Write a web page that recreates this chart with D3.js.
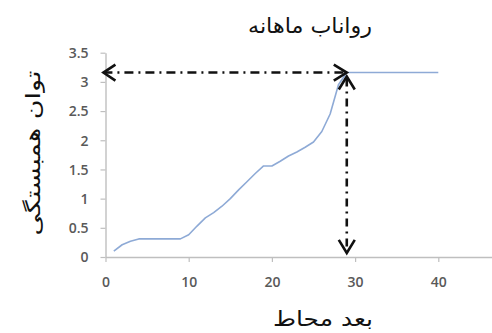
<!DOCTYPE html>
<html>
<head>
<meta charset="utf-8">
<script src="https://cdn.jsdelivr.net/npm/d3@7"></script>
<style>
  html, body { margin: 0; padding: 0; background: #fff; }
  svg { display: block; }
</style>
</head>
<body>
<svg id="chart" width="492" height="333"></svg>
<script>
// Lag distance (x) and correlation power (y) for monthly runoff
const lags = [1, 2, 3, 4, 5, 6, 7, 8, 9, 10, 11, 12, 13, 14, 15, 16, 17, 18, 19, 20,
              21, 22, 23, 24, 25, 26, 27, 28, 29, 30, 31, 32, 33, 34, 35, 36, 37, 38, 39, 40];
const power = [0.10, 0.21, 0.27, 0.31, 0.31, 0.31, 0.31, 0.31, 0.31, 0.38,
               0.53, 0.67, 0.76, 0.87, 1.00, 1.15, 1.29, 1.43, 1.56, 1.56,
               1.64, 1.73, 1.80, 1.88, 1.97, 2.15, 2.45, 2.95, 3.16, 3.16,
               3.16, 3.16, 3.16, 3.16, 3.16, 3.16, 3.16, 3.16, 3.16, 3.16];
const xTicks = [0, 10, 20, 30, 40];
const yTicks = [0, 0.5, 1, 1.5, 2, 2.5, 3, 3.5];
// Sill read-off: horizontal arrow to the plateau, vertical arrow down to the range
const sillLag = 29;
const sillValue = 3.16;
const arrowBottom = 0.07;
const arrowLeft = -0.25;

const title = "رواناب ماهانه";
const xTitle = "بعد محاط";
const yTitle = "توان همبستگی";

const svg = d3.select("#chart");
const x = d3.scaleLinear().domain([0, 50]).range([105.5, 521.5]);
const y = d3.scaleLinear().domain([0, 3.5]).range([257, 52.7]);

const tickFont = "'Open Sans', 'Liberation Sans', Arial, sans-serif";
const arabicFont = "'DejaVu Sans', 'Noto Sans', sans-serif";

// Axes
const xAxis = svg.append("g")
  .attr("transform", `translate(0,${y(0)})`)
  .call(d3.axisBottom(x).tickValues(xTicks).tickSize(5).tickSizeOuter(0).tickFormat(d3.format("d")));
const yAxis = svg.append("g")
  .attr("transform", `translate(${x(0)},0)`)
  .call(d3.axisLeft(y).tickValues(yTicks).tickSize(5).tickSizeOuter(0).tickFormat(d => String(d)));

[xAxis, yAxis].forEach(g => {
  g.select(".domain").attr("stroke", "#bfbfbf").attr("stroke-width", 1.4);
  g.selectAll(".tick line").attr("stroke", "#bfbfbf").attr("stroke-width", 1.2);
  g.selectAll(".tick text")
    .attr("fill", "#595959")
    .attr("font-family", tickFont)
    .attr("font-weight", 600)
    .attr("font-size", 14);
});
xAxis.selectAll(".tick text").attr("dy", "0").attr("y", 30);
yAxis.selectAll(".tick text").attr("x", -17).attr("dy", "0.35em");

// Correlation curve
const line = d3.line()
  .x((d, i) => x(lags[i]))
  .y(d => y(d));
svg.append("path")
  .datum(power)
  .attr("d", line)
  .attr("fill", "none")
  .attr("stroke", "#8eaad6")
  .attr("stroke-width", 1.6)
  .attr("stroke-linejoin", "round");

// Dash-dot arrows
const arrowG = svg.append("g")
  .attr("stroke", "#111")
  .attr("stroke-width", 2.6)
  .attr("fill", "none");

arrowG.append("line")
  .attr("x1", x(arrowLeft)).attr("y1", y(sillValue))
  .attr("x2", x(sillLag)).attr("y2", y(sillValue))
  .attr("stroke-dasharray", "9,5,2,5");
arrowG.append("line")
  .attr("x1", x(sillLag)).attr("y1", y(sillValue) + 6)
  .attr("x2", x(sillLag)).attr("y2", y(arrowBottom))
  .attr("stroke-dasharray", "8,5,2,5");

function chevron(tipX, tipY, dx, dy, along, spread) {
  // open arrow head: tip with two arms going back along (dx, dy)
  const px = -dy, py = dx;
  return `M${tipX + dx * along + px * spread},${tipY + dy * along + py * spread}` +
         `L${tipX},${tipY}` +
         `L${tipX + dx * along - px * spread},${tipY + dy * along - py * spread}`;
}
arrowG.append("path").attr("d", chevron(x(arrowLeft), y(sillValue), 1, 0, 12, 8));
arrowG.append("path").attr("d", chevron(x(sillLag), y(sillValue), -1, 0, 13, 8));
arrowG.append("path").attr("d", chevron(x(sillLag), y(sillValue) + 4, 0, 1, 13, 8));
arrowG.append("path").attr("d", chevron(x(sillLag), y(arrowBottom), 0, -1, 13, 8));

// Titles
function arabicText(sel, size, len) {
  return sel.attr("text-anchor", "middle")
    .attr("font-family", arabicFont)
    .attr("font-size", size)
    .attr("fill", "#111")
    .attr("direction", "rtl")
    .attr("textLength", len)
    .attr("lengthAdjust", "spacingAndGlyphs");
}
arabicText(svg.append("text").attr("x", 310).attr("y", 33), 21, 124).text(title);
arabicText(svg.append("text").attr("x", 323).attr("y", 326), 21, 100).text(xTitle);
arabicText(svg.append("text").attr("transform", "translate(40,153) rotate(-90)"), 20, 165).text(yTitle);
</script>
</body>
</html>
